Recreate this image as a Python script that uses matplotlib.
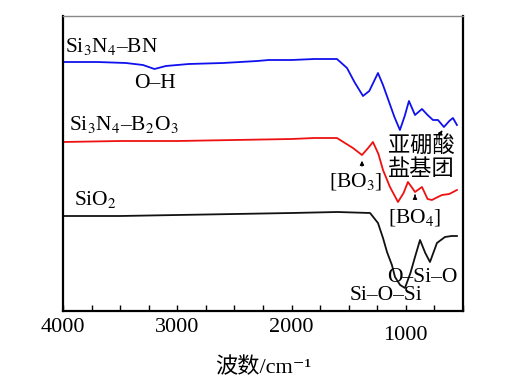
import matplotlib
matplotlib.use("Agg")
import matplotlib.pyplot as plt
from matplotlib.ticker import MultipleLocator

plt.rcParams['font.family'] = ['Liberation Serif', 'Noto Sans CJK SC', 'DejaVu Sans']
plt.rcParams['mathtext.fontset'] = 'stix'

# Wavenumber (cm^-1) and relative transmittance (offset, arbitrary units)
bn_x = [4000, 3700, 3450, 3300, 3200, 3100, 2900, 2600, 2300, 2200, 2000, 1800, 1603,
        1515, 1450, 1375, 1320, 1244, 1200, 1150, 1100, 1052, 1010, 973, 920, 859,
        810, 763, 719, 667, 620, 588, 553]
bn_y = [249, 249, 248, 246, 242, 245, 247, 248, 250, 251, 251, 252, 252,
        243, 229, 215, 220, 238, 226, 210, 194, 181, 195, 210, 196, 202,
        196, 191, 191, 184, 190, 193, 186]

bo_x = [4000, 3500, 3000, 2500, 2000, 1800, 1603, 1533, 1463, 1384, 1330, 1288,
        1240, 1200, 1139, 1069, 1020, 982, 950, 920, 859, 810, 772, 720, 684, 620, 553]
bo_y = [169, 170, 170, 171, 172, 173, 173, 168, 163, 156, 163, 169,
        157, 141, 124, 109, 118, 129, 124, 119, 124, 112, 111, 114, 116, 117, 121]

si_x = [4000, 3500, 3000, 2500, 2000, 1600, 1313, 1244, 1200, 1165, 1122, 1095,
        1050, 1008, 960, 920, 876, 830, 789, 728, 658, 600, 553]
si_y = [95, 95, 96, 97, 98, 99, 98, 88, 73, 59, 46, 34,
        26, 23, 38, 54, 71, 58, 49, 68, 74, 75, 75]

tick_vals = [4000, 3000, 2000, 1000]
tick_labels = ['4000', '3000', '2000', '1000']

fig = plt.figure(figsize=(5.2, 3.89), dpi=100)
ax = fig.add_axes([63/520, 1 - 311/389, 400/520, 295/389])

ax.plot(bn_x, bn_y, color='#1010ee', lw=1.3)
ax.plot(bo_x, bo_y, color='#ee1111', lw=1.3)
ax.plot(si_x, si_y, color='#111111', lw=1.3)

ax.set_xlim(4000, 500)
ax.set_ylim(0, 295)
ax.set_yticks([])
ax.set_xticks(tick_vals)
ax.set_xticklabels(tick_labels, fontsize=16)
ax.xaxis.set_minor_locator(MultipleLocator(250))
ax.tick_params(axis='x', which='both', direction='in', length=4, width=1, pad=5)
for t in ax.xaxis.get_major_ticks():
    if abs(t.get_loc() - 1000) < 1:
        t.set_pad(11)

for s in ['left', 'right', 'bottom']:
    ax.spines[s].set_linewidth(1.6)
    ax.spines[s].set_color('black')
ax.spines['top'].set_linewidth(1.0)
ax.spines['top'].set_color('#888888')

ax.set_xlabel('波数/cm⁻¹', fontsize=16, labelpad=9,
              family=['Liberation Serif', 'Noto Sans CJK SC', 'DejaVu Sans'])

fs = 15.5
ax.text(3982, 259, 'Si$_3$N$_4$–BN', fontsize=fs, ha='left', va='baseline')
ax.text(3195, 228, 'O–H', fontsize=fs, ha='center', va='center')
ax.text(3945, 181, 'Si$_3$N$_4$–B$_2$O$_3$', fontsize=fs, ha='left', va='baseline')
ax.text(3905, 106, 'SiO$_2$', fontsize=fs, ha='left', va='baseline')
ax.text(868, 154, '亚硼酸\n盐基团', fontsize=16, ha='center', va='center',
        linespacing=0.95, family=['Noto Sans CJK SC', 'DejaVu Sans'])
ax.text(1436, 124, '[BO$_3$]', fontsize=fs, ha='center', va='baseline')
ax.text(920, 89, '[BO$_4$]', fontsize=fs, ha='center', va='baseline')
ax.text(859, 29, 'O–Si–O', fontsize=fs, ha='center', va='baseline')
ax.text(1174, 11, 'Si–O–Si', fontsize=fs, ha='center', va='baseline')

ap = dict(arrowstyle='-|>', color='black', lw=0.8, mutation_scale=6)
ax.annotate('', xy=(1384, 153), xytext=(1384, 142), arrowprops=ap)
ax.annotate('', xy=(920, 119), xytext=(920, 113), arrowprops=ap)
ax.annotate('', xy=(667, 183), xytext=(702, 177), arrowprops=ap)

fig.savefig('out.png', dpi=100)
